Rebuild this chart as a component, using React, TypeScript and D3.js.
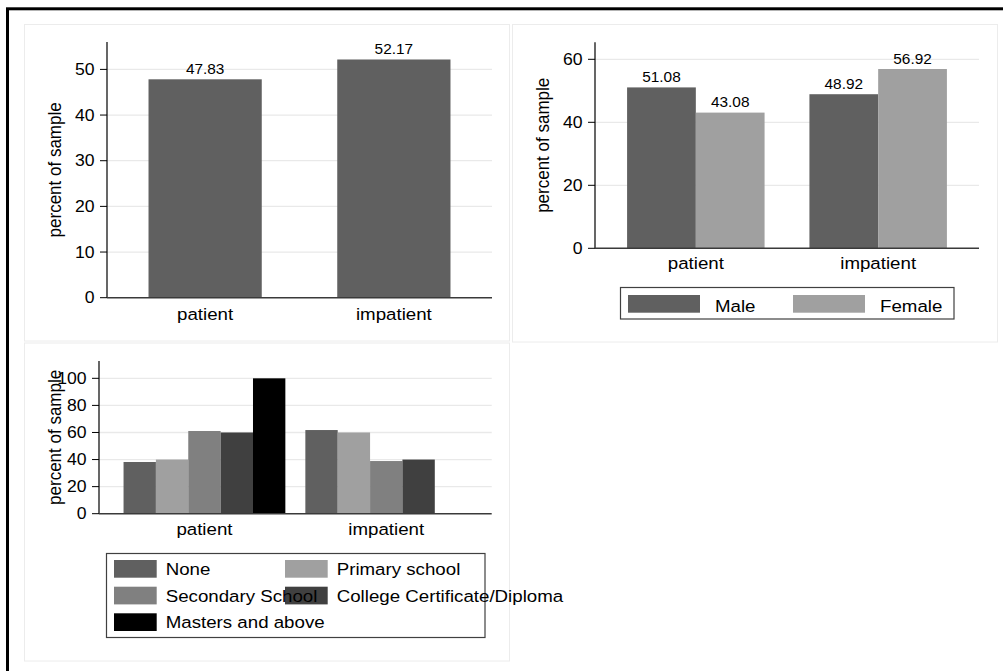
import React from "react";
import * as d3 from "d3";

// ---------- data ----------
const categories = ["patient", "impatient"];
const overallValues = [47.83, 52.17];

const sexSeries = ["Male", "Female"];
const maleValues = [51.08, 48.92];
const femaleValues = [43.08, 56.92];

const eduSeries = [
  "None",
  "Primary school",
  "Secondary School",
  "College Certificate/Diploma",
  "Masters and above",
];
const eduNone = [38.2, 61.8];
const eduPrimary = [40.0, 60.0];
const eduSecondary = [61.1, 38.9];
const eduCollege = [60.0, 40.0];
const eduMasters = [100.0, 0];

const ticks1 = [0, 10, 20, 30, 40, 50];
const ticks2 = [0, 20, 40, 60];
const ticks3 = [0, 20, 40, 60, 80, 100];

const yTitle = "percent of sample";

// ---------- style ----------
const SX = 1.1;
const FONT = "'Liberation Sans', Arial, Helvetica, sans-serif";
const C_DARK = "#606060";
const C_LIGHT = "#a0a0a0";
const C_MID = "#808080";
const C_DARKER = "#404040";
const C_BLACK = "#000000";
const GRID = "#e9e9e9";

function T(props: any) {
  const { x, y, size = 17, anchor = "start", rot = false, dy, children, fill = "#000" } = props;
  return (
    <text
      transform={`translate(${x},${y}) scale(${SX},1)${rot ? " rotate(-90)" : ""}`}
      textAnchor={anchor}
      fontSize={size}
      fontFamily={FONT}
      fill={fill}
      dy={dy}
    >
      {children}
    </text>
  );
}

function Axes(props: any) {
  const { y, ticks, x0, x1, top, panelLeft } = props;
  const yb = y(0);
  return (
    <g>
      {ticks
        .filter((t: number) => t !== 0)
        .map((t: number) => (
          <line key={"g" + t} x1={x0} x2={x1} y1={y(t)} y2={y(t)} stroke={GRID} strokeWidth={1.3} />
        ))}
      {ticks.map((t: number) => (
        <g key={"t" + t}>
          <line x1={x0 - 7} x2={x0} y1={y(t)} y2={y(t)} stroke="#000" strokeWidth={1} />
          <T x={x0 - 12.5} y={y(t)} anchor="end" size={16} dy="0.36em">
            {t}
          </T>
        </g>
      ))}
      <T x={panelLeft + 37} y={(top + yb) / 2} anchor="middle" size={17} rot>
        {yTitle}
      </T>
    </g>
  );
}

function AxisLines(props: any) {
  const { y, x0, x1, top } = props;
  const yb = y(0);
  return (
    <g>
      <line x1={x0} x2={x0} y1={top} y2={yb} stroke="#000" strokeWidth={1.2} />
      <line x1={x0} x2={x1} y1={yb} y2={yb} stroke="#3a3a3a" strokeWidth={1.6} />
    </g>
  );
}

function Panel1() {
  const x0 = 107, x1 = 492, top = 42;
  const x = d3.scalePoint<string>().domain(categories).range([x0, x1]).padding(0.52);
  const y = d3.scaleLinear().domain([0, 56]).range([297.7, top]);
  const bw = x.step() * 0.6;
  return (
    <g>
      <Axes y={y} ticks={ticks1} x0={x0} x1={x1} top={top} panelLeft={24} />
      {categories.map((c, i) => (
        <g key={c}>
          <rect x={x(c)! - bw / 2} y={y(overallValues[i])} width={bw} height={y(0) - y(overallValues[i])} fill={C_DARK} />
          <T x={x(c)!} y={y(overallValues[i]) - 5.5} anchor="middle" size={14}>
            {overallValues[i].toFixed(2)}
          </T>
          <T x={x(c)!} y={y(0) + 22} anchor="middle" size={17}>
            {c}
          </T>
        </g>
      ))}
      <AxisLines y={y} x0={x0} x1={x1} top={top} />
    </g>
  );
}

function Panel2() {
  const x0 = 595, x1 = 979, top = 42.3;
  const x = d3.scalePoint<string>().domain(categories).range([x0, x1]).padding(0.553);
  const gw = x.step() * 0.754;
  const inner = d3.scaleBand<string>().domain(sexSeries).range([-gw / 2, gw / 2]);
  const y = d3.scaleLinear().domain([0, 65.4]).range([248.3, top]);
  const vals = [maleValues, femaleValues];
  const cols = [C_DARK, C_LIGHT];
  return (
    <g>
      <Axes y={y} ticks={ticks2} x0={x0} x1={x1} top={top} panelLeft={512} />
      {categories.map((c, i) => (
        <g key={c}>
          {sexSeries.map((s, k) => {
            const v = vals[k][i];
            const bx = x(c)! + inner(s)!;
            return (
              <g key={s}>
                <rect x={bx} y={y(v)} width={inner.bandwidth()} height={y(0) - y(v)} fill={cols[k]} />
                <T x={bx + inner.bandwidth() / 2} y={y(v) - 5.5} anchor="middle" size={14}>
                  {v.toFixed(2)}
                </T>
              </g>
            );
          })}
          <T x={x(c)!} y={y(0) + 20.5} anchor="middle" size={17}>
            {c}
          </T>
        </g>
      ))}
      <AxisLines y={y} x0={x0} x1={x1} top={top} />
      {/* legend */}
      <rect x={620.5} y={287.5} width={333.5} height={31.5} fill="#fff" stroke="#404040" strokeWidth={1.2} />
      <rect x={628} y={295} width={72} height={17.7} fill={C_DARK} />
      <T x={715} y={311.5} size={17}>{sexSeries[0]}</T>
      <rect x={793} y={295} width={72} height={17.7} fill={C_LIGHT} />
      <T x={880} y={311.5} size={17}>{sexSeries[1]}</T>
    </g>
  );
}

function Panel3() {
  const x0 = 99, x1 = 491.7, top = 361;
  const x = d3.scalePoint<string>().domain(categories).range([x0, x1]).padding(0.58);
  const gw = x.step() * 0.89;
  const inner = d3.scaleBand<string>().domain(eduSeries).range([-gw / 2, gw / 2]);
  const y = d3.scaleLinear().domain([0, 112.8]).range([513.7, top]);
  const vals = [eduNone, eduPrimary, eduSecondary, eduCollege, eduMasters];
  const cols = [C_DARK, C_LIGHT, C_MID, C_DARKER, C_BLACK];
  const legendPos = [
    [114, 560, 165.7, 575],
    [285, 560, 336.7, 575],
    [114, 586.7, 165.7, 601.7],
    [285, 586.7, 336.7, 601.7],
    [114, 613.3, 165.7, 628.3],
  ];
  return (
    <g>
      <Axes y={y} ticks={ticks3} x0={x0} x1={x1} top={top} panelLeft={24} />
      {categories.map((c, i) => (
        <g key={c}>
          {eduSeries.map((s, k) => {
            const v = vals[k][i];
            if (!v) return null;
            return (
              <rect key={s} x={x(c)! + inner(s)!} y={y(v)} width={inner.bandwidth()} height={y(0) - y(v)} fill={cols[k]} />
            );
          })}
          <T x={x(c)!} y={y(0) + 21} anchor="middle" size={17}>
            {c}
          </T>
        </g>
      ))}
      <AxisLines y={y} x0={x0} x1={x1} top={top} />
      {/* legend */}
      <rect x={106.5} y={553.5} width={378.5} height={84} fill="#fff" stroke="#404040" strokeWidth={1.2} />
      {eduSeries.map((s, k) => (
        <rect key={"ls" + s} x={legendPos[k][0]} y={legendPos[k][1]} width={42.7} height={17.7} fill={cols[k]} />
      ))}
      {eduSeries.map((s, k) => (
        <T key={"lt" + s} x={legendPos[k][2]} y={legendPos[k][3]} size={17}>
          {s}
        </T>
      ))}
    </g>
  );
}

export default function App() {
  return (
    <svg
      width={1003}
      height={671}
      style={{ position: "absolute", left: 0, top: 0, background: "#fff" }}
    >
      <rect x={0} y={0} width={1003} height={671} fill="#fff" />
      <rect x={7.5} y={8.8} width={1010} height={680} fill="none" stroke="#000" strokeWidth={3} />
      <rect x={24.5} y={24.5} width={485} height={316.5} fill="#fff" stroke="#ececec" strokeWidth={1} />
      <rect x={512.5} y={24.5} width={485} height={317.5} fill="#fff" stroke="#ececec" strokeWidth={1} />
      <rect x={24.5} y={343} width={485} height={318} fill="#fff" stroke="#ececec" strokeWidth={1} />
      <Panel1 />
      <Panel2 />
      <Panel3 />
    </svg>
  );
}
